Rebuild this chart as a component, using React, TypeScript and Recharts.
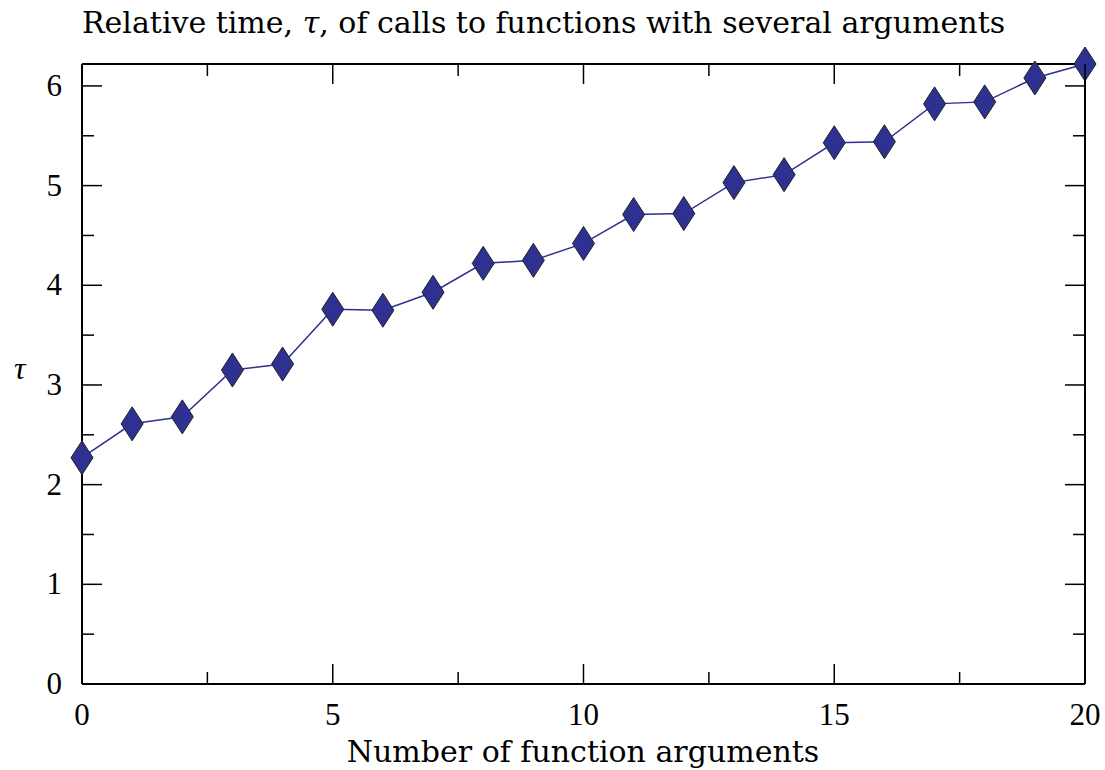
import { LineChart, Line, XAxis, YAxis, Label } from 'recharts';

// values
const argCounts = [0, 1, 2, 3, 4, 5, 6, 7, 8, 9, 10, 11, 12, 13, 14, 15, 16, 17, 18, 19, 20];
const tauValues = [
  2.27, 2.61, 2.68, 3.15, 3.21, 3.76, 3.75, 3.93, 4.22, 4.25, 4.42,
  4.71, 4.72, 5.03, 5.11, 5.43, 5.44, 5.82, 5.84, 6.08, 6.22,
];
const xTicks = [0, 2.5, 5, 7.5, 10, 12.5, 15, 17.5, 20];
const yTicks = [0, 0.5, 1, 1.5, 2, 2.5, 3, 3.5, 4, 4.5, 5, 5.5, 6];

const data = argCounts.map((n, i) => ({ n, tau: tauValues[i] }));

const FONT = '"Liberation Serif", "DejaVu Serif", serif';
const TEXT_FONT = '"DejaVu Serif", serif';
const BLUE = '#2E3192';
const FRAME = { stroke: '#000', strokeWidth: 2 };

const isMajorX = (v: number) => v % 5 === 0;
const isMajorY = (v: number) => v % 1 === 0;

const BottomTick = (props: any) => {
  const { x, y, payload } = props;
  const major = isMajorX(payload.value);
  return (
    <g>
      <line x1={x} x2={x} y1={y} y2={y - (major ? 20 : 12)} stroke="#000" strokeWidth={1.5} />
      {major && (
        <text x={x} y={y + 41} textAnchor="middle" fontFamily={FONT} fontSize={31} fill="#000">
          {payload.value}
        </text>
      )}
    </g>
  );
};

const TopTick = (props: any) => {
  const { x, y, payload } = props;
  const major = isMajorX(payload.value);
  return <line x1={x} x2={x} y1={y} y2={y + (major ? 20 : 12)} stroke="#000" strokeWidth={1.5} />;
};

const LeftTick = (props: any) => {
  const { x, y, payload } = props;
  const major = isMajorY(payload.value);
  return (
    <g>
      <line x1={x} x2={x + (major ? 20 : 12)} y1={y} y2={y} stroke="#000" strokeWidth={1.5} />
      {major && (
        <text x={x - 20} y={y + 10} textAnchor="end" fontFamily={FONT} fontSize={31} fill="#000">
          {payload.value}
        </text>
      )}
    </g>
  );
};

const RightTick = (props: any) => {
  const { x, y, payload } = props;
  const major = isMajorY(payload.value);
  return <line x1={x} x2={x - (major ? 20 : 12)} y1={y} y2={y} stroke="#000" strokeWidth={1.5} />;
};

const Diamond = (props: any) => {
  const { cx, cy } = props;
  if (cx == null || cy == null) return null;
  const w = 11;
  const h = 17;
  return (
    <polygon
      points={`${cx},${cy - h} ${cx + w},${cy} ${cx},${cy + h} ${cx - w},${cy}`}
      fill={BLUE}
      stroke="#222"
      strokeWidth={1}
    />
  );
};

const TitleLabel = () => (
  <text x={82} y={33} fontFamily={TEXT_FONT} fontSize={30} fill="#000">
    Relative time, <tspan fontStyle="italic">τ</tspan>, of calls to functions with several arguments
  </text>
);

const TauLabel = () => (
  <text x={14} y={379} fontFamily={FONT} fontSize={32} fontStyle="italic" fill="#000">
    τ
  </text>
);

const XTitle = () => (
  <text x={583} y={762} textAnchor="middle" fontFamily={TEXT_FONT} fontSize={30} fill="#000">
    Number of function arguments
  </text>
);

export default function App() {
  return (
    <div style={{ position: 'absolute', left: 0, top: 0, background: '#fff' }}>
      <LineChart width={1105} height={770} data={data} margin={{ top: 63, right: 19, left: 0, bottom: 0 }}>
        <XAxis
          dataKey="n"
          type="number"
          domain={[0, 20]}
          ticks={xTicks}
          interval={0}
          height={86}
          tickSize={0}
          tickMargin={0}
          tickLine={false}
          tick={BottomTick}
          axisLine={FRAME}
        >
          <Label content={XTitle} />
        </XAxis>
        <XAxis
          xAxisId="top"
          orientation="top"
          dataKey="n"
          type="number"
          domain={[0, 20]}
          ticks={xTicks}
          interval={0}
          height={1}
          tickSize={0}
          tickMargin={0}
          tickLine={false}
          tick={TopTick}
          axisLine={FRAME}
        >
          <Label content={TitleLabel} />
        </XAxis>
        <YAxis
          type="number"
          domain={[0, 6.2]}
          ticks={yTicks}
          interval={0}
          width={82}
          tickSize={0}
          tickMargin={0}
          tickLine={false}
          tick={LeftTick}
          axisLine={FRAME}
        >
          <Label content={TauLabel} />
        </YAxis>
        <YAxis
          yAxisId="right"
          orientation="right"
          type="number"
          domain={[0, 6.2]}
          ticks={yTicks}
          interval={0}
          width={1}
          tickSize={0}
          tickMargin={0}
          tickLine={false}
          tick={RightTick}
          axisLine={FRAME}
        />
        {/* invisible copy so the top and right frame axes get drawn */}
        <Line
          xAxisId="top"
          yAxisId="right"
          dataKey="tau"
          stroke="none"
          dot={false}
          activeDot={false}
          legendType="none"
          isAnimationActive={false}
        />
        <Line
          dataKey="tau"
          type="linear"
          stroke={BLUE}
          strokeWidth={1.5}
          dot={Diamond}
          activeDot={false}
          isAnimationActive={false}
        />
      </LineChart>
    </div>
  );
}
